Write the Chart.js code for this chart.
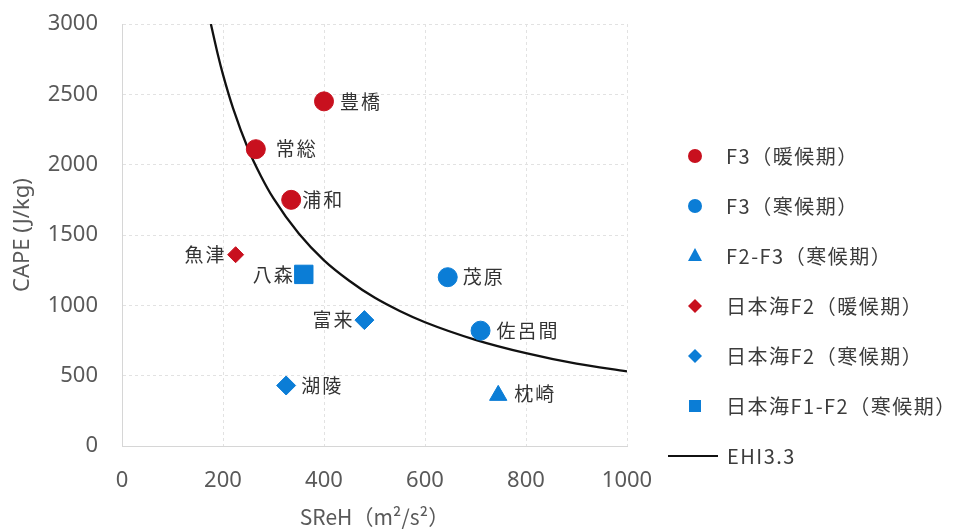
<!DOCTYPE html>
<html>
<head>
<meta charset="utf-8">
<script src="https://cdn.jsdelivr.net/npm/chart.js@4.4.1/dist/chart.umd.min.js"></script>
<style>
  html, body { margin: 0; padding: 0; background: #fff; }
  #wrap { width: 972px; height: 530px; }
</style>
</head>
<body>
<div id="wrap"><canvas id="chart" width="972" height="530"></canvas></div>
<script>
// --- data ---
const seriesNames = [
  "F3（暖候期）",
  "F3（寒候期）",
  "F2-F3（寒候期）",
  "日本海F2（暖候期）",
  "日本海F2（寒候期）",
  "日本海F1-F2（寒候期）",
];
const lineName = "EHI3.3";

const warmF3Names = ["豊橋", "常総", "浦和"];
const warmF3X = [400, 265, 335];
const warmF3Y = [2450, 2110, 1750];

const coldF3Names = ["茂原", "佐呂間"];
const coldF3X = [645, 710];
const coldF3Y = [1200, 820];

const coldF2F3Names = ["枕崎"];
const coldF2F3X = [745];
const coldF2F3Y = [360];

const warmSeaF2Names = ["魚津"];
const warmSeaF2X = [225];
const warmSeaF2Y = [1360];

const coldSeaF2Names = ["富来", "湖陵"];
const coldSeaF2X = [480, 325];
const coldSeaF2Y = [895, 430];

const coldSeaF1F2Names = ["八森"];
const coldSeaF1F2X = [360];
const coldSeaF1F2Y = [1220];

// EHI = 3.3 curve
const ehiX = [176, 190, 200, 220, 250, 275, 300, 350, 400, 450, 500, 550, 600, 700, 800, 900, 1000];
const ehiY = [3000, 2780, 2640, 2400, 2110, 1920, 1760, 1510, 1320, 1175, 1055, 960, 880, 755, 660, 585, 530];

const xTicks = [0, 200, 400, 600, 800, 1000];
const yTicks = [0, 500, 1000, 1500, 2000, 2500, 3000];

const RED = "#c8101e";
const BLUE = "#0b7dd6";

function pts(xs, ys) {
  return xs.map((x, i) => ({ x: x, y: ys[i] }));
}

// label gap from point centre (negative = text on the left side)
const labelGap = {
  豊橋: 16, 常総: 20, 浦和: 11, 魚津: -11, 八森: -11,
  茂原: 15, 富来: -12, 佐呂間: 16, 湖陵: 15, 枕崎: 16,
};

const pointLabels = {
  id: "pointLabels",
  afterDatasetsDraw(chart) {
    const ctx = chart.ctx;
    ctx.save();
    ctx.font = '19px "Noto Sans CJK JP"';
    ctx.letterSpacing = "2px";
    ctx.fillStyle = "#333";
    ctx.textBaseline = "middle";
    ctx.textAlign = "left";
    chart.data.datasets.forEach((ds, i) => {
      if (!ds.stations) return;
      const meta = chart.getDatasetMeta(i);
      meta.data.forEach((el, j) => {
        const name = ds.stations[j];
        const gap = labelGap[name] || 14;
        let tx = el.x + gap;
        if (gap < 0) tx = el.x + gap - (ctx.measureText(name).width - 2);
        let ty = el.y;
        if (ds.pointStyle === "triangle") ty = el.y - 2;
        ctx.fillText(name, tx, ty);
      });
    });
    ctx.restore();
  },
};

// legend at the right, as in the reference
const sideLegend = {
  id: "sideLegend",
  afterDraw(chart) {
    const ctx = chart.ctx;
    const top = 156, step = 50, mx = 695, tx = 726;
    ctx.save();
    ctx.font = '20px "Noto Sans CJK JP"';
    ctx.letterSpacing = "1.5px";
    ctx.textBaseline = "middle";
    chart.data.datasets.forEach((ds, i) => {
      const y = top + i * step;
      ctx.fillStyle = ds.backgroundColor;
      ctx.strokeStyle = ds.borderColor;
      ctx.beginPath();
      if (ds.type === "line") {
        ctx.lineWidth = 2;
        ctx.moveTo(668, y);
        ctx.lineTo(718, y);
        ctx.stroke();
      } else if (ds.pointStyle === "circle") {
        ctx.arc(mx, y, 7, 0, Math.PI * 2);
        ctx.fill();
      } else if (ds.pointStyle === "triangle") {
        ctx.moveTo(mx, y - 8);
        ctx.lineTo(mx + 7, y + 5);
        ctx.lineTo(mx - 7, y + 5);
        ctx.closePath();
        ctx.fill();
      } else if (ds.pointStyle === "rectRot") {
        ctx.moveTo(mx, y - 7);
        ctx.lineTo(mx + 7, y);
        ctx.lineTo(mx, y + 7);
        ctx.lineTo(mx - 7, y);
        ctx.closePath();
        ctx.fill();
      } else {
        ctx.fillRect(mx - 6, y - 6, 12, 12);
      }
      ctx.fillStyle = "#3c3c3c";
      ctx.fillText(ds.label, ds.type === "line" ? 727 : tx, y);
    });
    ctx.restore();
  },
};

function scatterSet(label, names, xs, ys, color, style, radius) {
  return {
    label: label,
    stations: names,
    data: pts(xs, ys),
    backgroundColor: color,
    borderColor: color,
    pointStyle: style,
    pointRadius: radius,
    pointHoverRadius: radius,
    pointBorderWidth: 1,
    showLine: false,
  };
}

new Chart(document.getElementById("chart"), {
  type: "scatter",
  data: {
    datasets: [
      scatterSet(seriesNames[0], warmF3Names, warmF3X, warmF3Y, RED, "circle", 9.5),
      scatterSet(seriesNames[1], coldF3Names, coldF3X, coldF3Y, BLUE, "circle", 9.5),
      scatterSet(seriesNames[2], coldF2F3Names, coldF2F3X, coldF2F3Y, BLUE, "triangle", 10),
      scatterSet(seriesNames[3], warmSeaF2Names, warmSeaF2X, warmSeaF2Y, RED, "rectRot", 8),
      scatterSet(seriesNames[4], coldSeaF2Names, coldSeaF2X, coldSeaF2Y, BLUE, "rectRot", 9.5),
      scatterSet(seriesNames[5], coldSeaF1F2Names, coldSeaF1F2X, coldSeaF1F2Y, BLUE, "rect", 13),
      {
        type: "line",
        label: lineName,
        data: pts(ehiX, ehiY),
        borderColor: "#111",
        backgroundColor: "#111",
        borderWidth: 2.3,
        pointRadius: 0,
        cubicInterpolationMode: "monotone",
        fill: false,
      },
    ],
  },
  options: {
    responsive: false,
    animation: false,
    layout: { padding: { top: 24, right: 345, left: 0, bottom: 0 } },
    plugins: {
      legend: { display: false },
      tooltip: { enabled: false },
    },
    scales: {
      x: {
        type: "linear",
        min: 0,
        max: 1000,
        afterBuildTicks: (s) => { s.ticks = xTicks.map((v) => ({ value: v })); },
        afterFit: (s) => { s.height = 84; s.paddingLeft = 0; s.paddingRight = 0; },
        ticks: {
          color: "#595959",
          font: { family: "Noto Sans", size: 22 },
          padding: 22,
          callback: (v) => String(v),
        },
        grid: { color: "#e2e2e2", drawTicks: false, lineWidth: 1 },
        border: { color: "#d6d6d6", dash: [3, 3] },
        title: {
          display: true,
          text: "SReH（m²/s²）",
          color: "#595959",
          font: { family: "Noto Sans CJK JP", size: 21 },
          padding: { top: 0, bottom: 0 },
        },
      },
      y: {
        min: 0,
        max: 3000,
        afterBuildTicks: (s) => { s.ticks = yTicks.map((v) => ({ value: v })); },
        afterFit: (s) => { s.width = 122; s.paddingTop = 0; s.paddingBottom = 0; },
        ticks: {
          color: "#595959",
          font: { family: "Noto Sans", size: 22 },
          padding: 24,
          callback: (v) => String(v),
        },
        grid: { color: "#e2e2e2", drawTicks: false, lineWidth: 1 },
        border: { color: "#d6d6d6", dash: [3, 3] },
        title: {
          display: true,
          text: "CAPE (J/kg)",
          color: "#595959",
          font: { family: "Noto Sans", size: 22 },
          padding: { top: 10, bottom: 0 },
        },
      },
    },
  },
  plugins: [pointLabels, sideLegend],
});
</script>
</body>
</html>
